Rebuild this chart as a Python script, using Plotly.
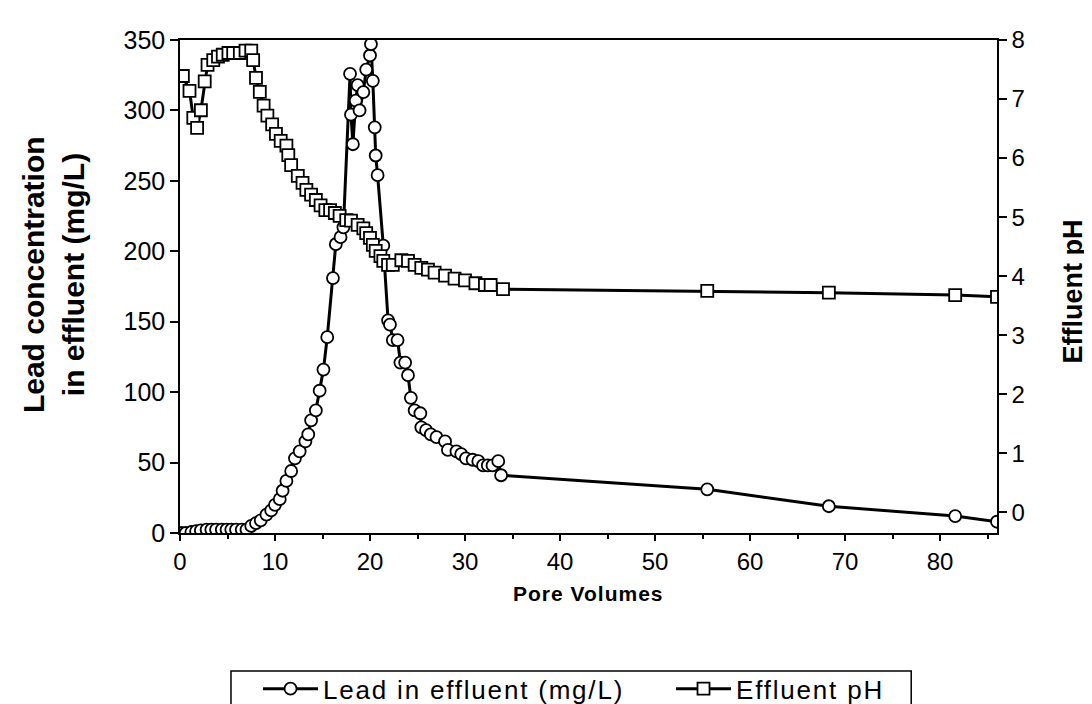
import plotly.graph_objects as go

# Lead in effluent (mg/L) vs pore volumes
lead_pv = [0.1, 0.6, 1.2, 1.7, 2.2, 2.8, 3.3, 3.8, 4.4, 4.9, 5.4, 5.9, 6.5, 7.0, 7.5,
           8.0, 8.5, 9.1, 9.6, 10.0, 10.5, 10.8, 11.2, 11.7, 12.1, 12.6, 13.2, 13.5,
           13.8, 14.3, 14.7, 15.1, 15.5, 16.1, 16.4, 16.9, 17.2, 17.9, 18.0, 18.2,
           18.5, 18.7, 18.9, 19.3, 19.6, 20.0, 20.1, 20.3, 20.5, 20.6, 20.8, 21.4,
           21.9, 22.1, 22.4, 22.9, 23.2, 23.7, 24.0, 24.3, 24.7, 25.3, 25.4, 25.9,
           26.4, 27.0, 27.9, 28.2, 29.1, 29.6, 30.1, 30.8, 31.4, 31.9, 32.4, 32.9,
           33.5, 33.8, 55.5, 68.3, 81.6, 86.0]
lead_mg = [0, 0, 0.7, 1.4, 1.9, 2.4, 2.4, 2.4, 2.4, 2.4, 2.4, 2.4, 2.4, 2.4, 5,
           7, 9, 13, 16, 20, 24, 30, 37, 44, 53, 58, 65, 70,
           80, 87, 101, 116, 139, 181, 205, 210, 217, 326, 297, 276,
           307, 318, 300, 313, 329, 339, 347, 321, 288, 268, 254, 204,
           151, 148, 137, 137, 121, 121, 112, 96, 87, 85, 75, 73,
           70, 68, 65, 59, 58, 56, 53, 52, 51, 48, 48, 48,
           51, 41, 31, 19, 12, 8]

# Effluent pH vs pore volumes
ph_pv = [0.3, 1.0, 1.4, 1.8, 2.2, 2.6, 2.9, 3.5, 4.0, 4.5, 5.1, 5.6, 6.3, 6.9, 7.5,
         7.7, 8.0, 8.4, 8.8, 9.2, 9.7, 10.1, 10.6, 11.2, 11.4, 11.7, 12.4, 12.9,
         13.3, 13.8, 14.3, 14.8, 15.3, 15.8, 16.3, 16.8, 17.5, 18.0, 18.7, 19.3,
         19.6, 20.0, 20.3, 20.6, 21.1, 21.4, 21.9, 22.4, 23.3, 24.0, 24.7, 25.4,
         26.1, 26.8, 27.9, 28.9, 30.0, 31.1, 32.1, 32.7, 34.0, 55.5, 68.3, 81.6, 86.0]
ph_val = [7.39, 7.14, 6.68, 6.51, 6.81, 7.30, 7.58, 7.66, 7.72, 7.75, 7.78, 7.78, 7.78, 7.82, 7.82,
          7.66, 7.36, 7.12, 6.89, 6.72, 6.57, 6.41, 6.29, 6.21, 6.05, 5.88, 5.70, 5.58,
          5.46, 5.38, 5.29, 5.20, 5.12, 5.12, 5.07, 5.02, 4.95, 4.94, 4.87, 4.81,
          4.73, 4.65, 4.53, 4.43, 4.34, 4.26, 4.19, 4.19, 4.27, 4.26, 4.19, 4.14,
          4.11, 4.06, 4.01, 3.96, 3.93, 3.88, 3.85, 3.85, 3.78, 3.75, 3.72, 3.68, 3.65]

x_ticks = [0, 10, 20, 30, 40, 50, 60, 70, 80]
left_ticks = [0, 50, 100, 150, 200, 250, 300, 350]
right_ticks = [0, 1, 2, 3, 4, 5, 6, 7, 8]

FONT = "Liberation Sans, Arial, sans-serif"

fig = go.Figure()
fig.add_trace(go.Scatter(
    x=lead_pv, y=lead_mg,
    name="<span style='letter-spacing:1.8px'>Lead in effluent (mg/L)</span>",
    mode="lines+markers",
    line=dict(color="black", width=3),
    marker=dict(symbol="circle", size=12, color="white", line=dict(color="black", width=1.8)),
    yaxis="y", legend="legend"))
fig.add_trace(go.Scatter(
    x=ph_pv, y=ph_val,
    name="<span style='letter-spacing:1.8px'>Effluent pH</span>",
    mode="lines+markers",
    line=dict(color="black", width=3),
    marker=dict(symbol="square", size=12, color="white", line=dict(color="black", width=1.8)),
    yaxis="y2", legend="legend2"))

legend_common = dict(orientation="h", yanchor="middle", xanchor="left",
                     borderwidth=0, bgcolor="rgba(0,0,0,0)", itemwidth=55,
                     font=dict(size=26, family=FONT, color="black"))

fig.update_layout(
    width=1092, height=704,
    paper_bgcolor="white", plot_bgcolor="white",
    margin=dict(l=172, r=103, t=32, b=179, autoexpand=False),
    font=dict(family=FONT, size=24, color="black"),
    showlegend=True,
    legend=dict(x=0.0955, y=-0.316, **legend_common),
    legend2=dict(x=0.601, y=-0.316, **legend_common),
    shapes=[dict(type="rect", xref="paper", yref="paper", x0=0.0624, x1=0.895,
                 y0=-0.351, y1=-0.280, line=dict(color="black", width=1.5),
                 fillcolor="rgba(0,0,0,0)")],
    xaxis=dict(range=[0, 86.0], tickvals=x_ticks, ticks="outside", ticklen=6, tickwidth=1.5,
               tickcolor="black", showline=True, linecolor="black", linewidth=1.5,
               mirror=True, showgrid=False, zeroline=False,
               minor=dict(dtick=5, ticks="outside", ticklen=4, tickcolor="black", tickwidth=1.5),
               tickfont=dict(size=24)),
    yaxis=dict(range=[0, 350], tickvals=left_ticks, ticks="outside", ticklen=8, tickwidth=1.5,
               tickcolor="black", showline=True, linecolor="black", linewidth=1.5,
               showgrid=False, zeroline=False, tickfont=dict(size=25)),
    yaxis2=dict(range=[-0.35, 8], tickvals=right_ticks, overlaying="y", side="right",
                ticks="outside", ticklen=8, tickwidth=1.5, tickcolor="black",
                showline=True, linecolor="black", linewidth=1.5,
                showgrid=False, zeroline=False, tickfont=dict(size=24)),
    annotations=[
        dict(text="<b>Lead concentration</b>", xref="paper", yref="paper", x=-0.180, y=0.525,
             textangle=-90, showarrow=False, font=dict(size=30, family=FONT),
             xanchor="center", yanchor="middle"),
        dict(text="<b>in effluent (mg/L)</b>", xref="paper", yref="paper", x=-0.131, y=0.525,
             textangle=-90, showarrow=False, font=dict(size=30, family=FONT),
             xanchor="center", yanchor="middle"),
        dict(text="<b>Effluent pH</b>", xref="paper", yref="paper", x=1.0930, y=0.49,
             textangle=-90, showarrow=False, font=dict(size=27, family=FONT),
             xanchor="center", yanchor="middle"),
        dict(text="<b><span style='letter-spacing:1px'>Pore Volumes</span></b>",
             xref="paper", yref="paper", x=0.5, y=-0.122,
             showarrow=False, font=dict(size=21, family=FONT),
             xanchor="center", yanchor="middle"),
    ],
)

fig.write_html("out.html")
